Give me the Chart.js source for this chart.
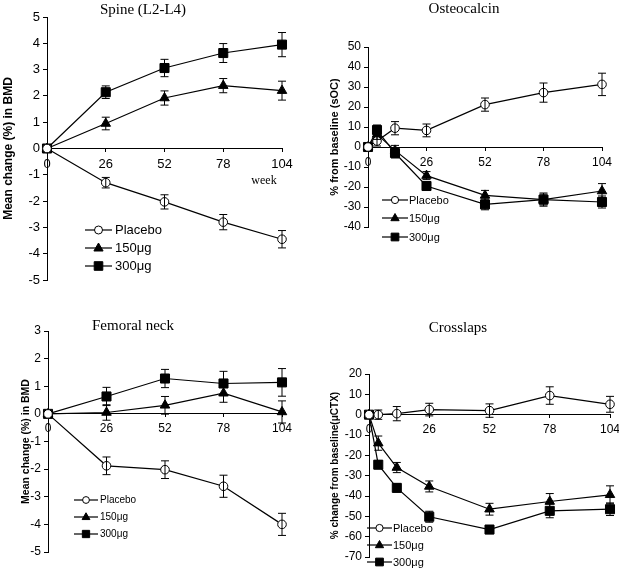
<!DOCTYPE html>
<html>
<head>
<meta charset="utf-8">
<script src="https://cdn.jsdelivr.net/npm/chart.js@4.4.1/dist/chart.umd.min.js"></script>
<style>
  body { margin: 0; background: #fff; }
  #page { position: relative; width: 619px; height: 570px; overflow: hidden; }
  .box { position: absolute; }
  .ttl { position: absolute; transform: translate(-50%, -50%); white-space: nowrap;
         font-family: "Liberation Serif", "Times New Roman", serif; font-size: 15px; color: #000; }
</style>
</head>
<body>
<div id="page">
  <div class="box" style="left:0;top:0;width:310px;height:290px"><canvas id="spine"></canvas></div>
  <div class="box" style="left:310px;top:0;width:309px;height:290px"><canvas id="osteo"></canvas></div>
  <div class="box" style="left:0;top:290px;width:310px;height:280px"><canvas id="femur"></canvas></div>
  <div class="box" style="left:310px;top:290px;width:309px;height:280px"><canvas id="ctx"></canvas></div>
  <div class="ttl" style="left:143px;top:9px">Spine (L2-L4)</div>
  <div class="ttl" style="left:464px;top:8px">Osteocalcin</div>
  <div class="ttl" style="left:133px;top:325px">Femoral neck</div>
  <div class="ttl" style="left:458px;top:327px">Crosslaps</div>
  <div class="ttl" style="left:264px;top:180px;font-size:12px">week</div>
</div>
<script>
// groups and time points
const groups = ['Placebo', '150μg', '300μg'];
const bmdWeeks = [0, 26, 52, 78, 104];
const markerWeeks = [0, 4, 12, 26, 52, 78, 104];
const weekTicks = [0, 26, 52, 78, 104];

// Spine (L2-L4), mean change (%) in BMD
const spinePlacebo = [0, -1.3, -2.03, -2.8, -3.45];
const spinePlaceboErr = [0, 0.2, 0.27, 0.29, 0.33];
const spine150 = [0, 0.95, 1.92, 2.39, 2.2];
const spine150Err = [0, 0.24, 0.27, 0.27, 0.36];
const spine300 = [0, 2.14, 3.06, 3.63, 3.95];
const spine300Err = [0, 0.24, 0.33, 0.36, 0.46];

// Osteocalcin, % from baseline
const osteoPlacebo = [0, 3, 9.4, 8.3, 21.2, 27.2, 31.3];
const osteoPlaceboErr = [0, 2.5, 3.3, 3.2, 3.3, 4.8, 5.6];
const osteo150 = [0, 6.3, -1.7, -14.3, -24.2, -26.3, -22];
const osteo150Err = [0, 2.5, 2.5, 2, 2.5, 3.3, 3.7];
const osteo300 = [0, 8.5, -3, -19.5, -28.7, -26.3, -27.5];
const osteo300Err = [0, 2.5, 2.5, 2, 2.7, 2.7, 3];

// Femoral neck, mean change (%) in BMD
const femurPlacebo = [0, -1.88, -2.02, -2.62, -4.0];
const femurPlaceboErr = [0, 0.32, 0.32, 0.4, 0.4];
const femur150 = [0, 0.05, 0.31, 0.75, 0.07];
const femur150Err = [0, 0.28, 0.32, 0.33, 0.4];
const femur300 = [0, 0.63, 1.28, 1.1, 1.14];
const femur300Err = [0, 0.33, 0.33, 0.44, 0.5];

// Crosslaps, % change from baseline
const ctxPlacebo = [0, 0, 0.5, 2.5, 2, 9.4, 5.1];
const ctxPlaceboErr = [0, 2.3, 3.5, 3.1, 3.3, 4.3, 3.9];
const ctx150 = [0, -14, -26, -35.3, -46.5, -42.7, -39.4];
const ctx150Err = [0, 3.5, 2.5, 2.7, 2.9, 3.9, 4.4];
const ctx300 = [0, -24.6, -36, -50.2, -56.5, -47.3, -46.5];
const ctx300Err = [0, 2, 2, 2.7, 2, 3.4, 3.1];

Chart.defaults.font.family = '"Liberation Sans", Arial, sans-serif';
Chart.defaults.color = '#000';

const styles = ['circle', 'triangle', 'rect'];
const radii = [4.3, 5.5, 6.4];

function marker(ctx, k, x, y, s) {
  ctx.save();
  ctx.fillStyle = k ? '#000' : '#fff';
  ctx.strokeStyle = '#000';
  ctx.lineWidth = 1;
  ctx.beginPath();
  if (k === 0) ctx.arc(x, y, 4 * s, 0, Math.PI * 2);
  else if (k === 1) { ctx.moveTo(x, y - 5 * s); ctx.lineTo(x + 4.6 * s, y + 3 * s); ctx.lineTo(x - 4.6 * s, y + 3 * s); ctx.closePath(); }
  else ctx.rect(x - 4.3 * s, y - 4.3 * s, 8.6 * s, 8.6 * s);
  ctx.fill();
  ctx.stroke();
  ctx.restore();
}

// vertical error bars with caps
const errorBars = {
  id: 'errorBars',
  afterDatasetsDraw(chart) {
    const ctx = chart.ctx, xs = chart.scales.x, ys = chart.scales.y;
    ctx.save();
    ctx.strokeStyle = '#000';
    ctx.lineWidth = 1;
    chart.data.datasets.forEach(ds => {
      ds.data.forEach((p, i) => {
        const e = ds.err[i];
        if (!e) return;
        const px = xs.getPixelForValue(p.x);
        const t = ys.getPixelForValue(p.y + e), b = ys.getPixelForValue(p.y - e);
        ctx.beginPath();
        ctx.moveTo(px, t); ctx.lineTo(px, b);
        ctx.moveTo(px - 4, t); ctx.lineTo(px + 4, t);
        ctx.moveTo(px - 4, b); ctx.lineTo(px + 4, b);
        ctx.stroke();
      });
    });
    ctx.restore();
  }
};

// legend drawn inside the plot
const insetLegend = {
  id: 'insetLegend',
  afterDraw(chart, args, o) {
    const ctx = chart.ctx;
    ctx.save();
    ctx.font = o.size + 'px "Liberation Sans", Arial, sans-serif';
    ctx.textBaseline = 'middle';
    ctx.fillStyle = '#000';
    groups.forEach((g, k) => {
      const y = o.rows[k];
      ctx.strokeStyle = '#000';
      ctx.lineWidth = 1.2;
      ctx.beginPath();
      ctx.moveTo(o.x0, y); ctx.lineTo(o.x1, y);
      ctx.stroke();
      marker(ctx, k, (o.x0 + o.x1) / 2, y, o.scale);
      ctx.fillText(g, o.tx, y + 0.5);
    });
    ctx.restore();
  }
};

function panel(id, o) {
  const sets = o.series.map((vals, k) => ({
    label: groups[k],
    data: o.weeks.map((w, i) => ({ x: w, y: vals[i] })),
    err: o.errs[k],
    borderColor: '#000',
    borderWidth: 1.2,
    pointStyle: styles[k],
    pointRadius: radii[k],
    pointBackgroundColor: k ? '#000' : '#fff',
    pointBorderColor: '#000',
    pointBorderWidth: 1,
    tension: 0,
    clip: false
  }));
  return new Chart(document.getElementById(id), {
    type: 'line',
    data: { datasets: sets },
    options: {
      animation: false,
      responsive: true,
      maintainAspectRatio: false,
      layout: { padding: o.pad },
      plugins: { legend: { display: false }, tooltip: { enabled: false }, insetLegend: o.legend },
      scales: {
        x: {
          type: 'linear', min: 0, max: 104, position: { y: 0 },
          afterBuildTicks: s => { s.ticks = weekTicks.map(v => ({ value: v })); },
          afterFit: s => { s.height = 0; s.paddingLeft = 0; s.paddingRight = 0; },
          grid: { drawOnChartArea: false, tickLength: 3, color: '#000' },
          border: { color: '#000', width: 1 },
          ticks: { font: { size: o.xFont }, padding: o.xPad, maxRotation: 0, autoSkip: false }
        },
        y: {
          min: o.yMin, max: o.yMax,
          afterFit: s => { s.width = o.yWidth; s.paddingTop = 0; s.paddingBottom = 0; },
          ticks: { stepSize: o.yStep, font: { size: o.yFont }, padding: 3 },
          grid: { drawOnChartArea: false, tickLength: 4, color: '#000' },
          border: { color: '#000', width: 1 },
          title: { display: true, text: o.yTitle, font: { size: o.titleSize, weight: 'bold' }, padding: { top: o.titlePad, bottom: 0 } }
        }
      }
    },
    plugins: [errorBars, insetLegend]
  });
}

panel('spine', {
  weeks: bmdWeeks,
  series: [spinePlacebo, spine150, spine300],
  errs: [spinePlaceboErr, spine150Err, spine300Err],
  pad: { left: 0, top: 17, right: 28, bottom: 10 },
  yWidth: 47, yMin: -5, yMax: 5, yStep: 1, yFont: 13, xFont: 13, xPad: 5,
  yTitle: 'Mean change (%) in BMD', titleSize: 12, titlePad: 1,
  legend: { x0: 85, x1: 112, tx: 115, rows: [230, 248, 266], size: 13, scale: 1 }
});

panel('osteo', {
  weeks: markerWeeks,
  series: [osteoPlacebo, osteo150, osteo300],
  errs: [osteoPlaceboErr, osteo150Err, osteo300Err],
  pad: { left: 0, top: 47, right: 17, bottom: 63 },
  yWidth: 58, yMin: -40, yMax: 50, yStep: 10, yFont: 12, xFont: 12, xPad: 5,
  yTitle: '% from baseline (sOC)', titleSize: 11, titlePad: 18,
  legend: { x0: 72, x1: 98, tx: 99, rows: [200, 218, 237], size: 11, scale: 0.9 }
});

panel('femur', {
  weeks: bmdWeeks,
  series: [femurPlacebo, femur150, femur300],
  errs: [femurPlaceboErr, femur150Err, femur300Err],
  pad: { left: 0, top: 41, right: 28, bottom: 18 },
  yWidth: 48, yMin: -5, yMax: 3, yStep: 1, yFont: 12, xFont: 12, xPad: 5,
  yTitle: 'Mean change (%) in BMD', titleSize: 10.5, titlePad: 20,
  legend: { x0: 74, x1: 98, tx: 100, rows: [210, 227, 244], size: 10, scale: 0.85 }
});

panel('ctx', {
  weeks: markerWeeks,
  series: [ctxPlacebo, ctx150, ctx300],
  errs: [ctxPlaceboErr, ctx150Err, ctx300Err],
  pad: { left: 0, top: 84, right: 9, bottom: 13 },
  yWidth: 59, yMin: -70, yMax: 20, yStep: 10, yFont: 12, xFont: 12, xPad: 5,
  yTitle: '% change from baseline(μCTX)', titleSize: 10, titlePad: 19,
  legend: { x0: 57, x1: 82, tx: 83, rows: [238, 255, 272], size: 11, scale: 0.9 }
});
</script>
</body>
</html>
